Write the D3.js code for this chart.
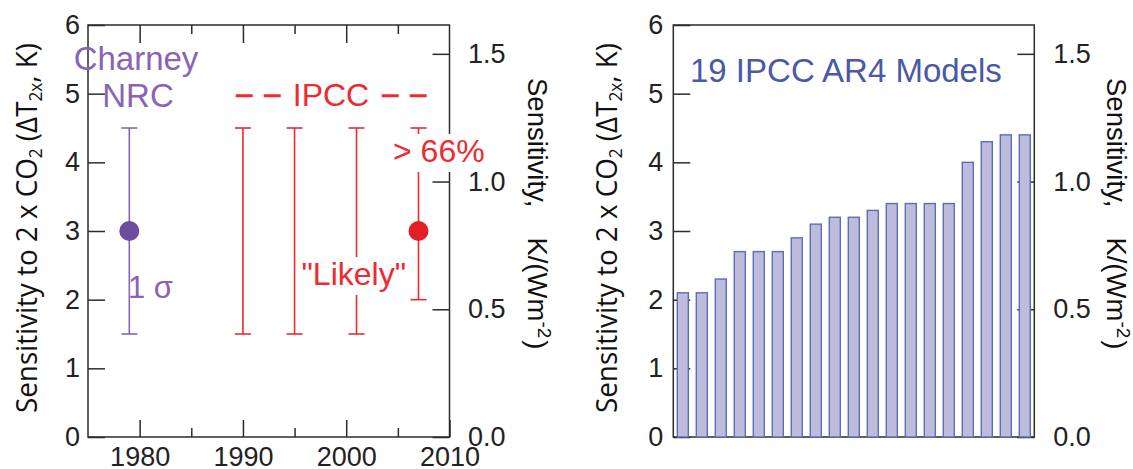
<!DOCTYPE html>
<html>
<head>
<meta charset="utf-8">
<script src="https://cdn.jsdelivr.net/npm/d3@7"></script>
<style>
  body { margin: 0; background: #fff; }
  svg text { font-family: "Liberation Sans", Arial, sans-serif; }
  .ax text { font-size: 27px; fill: #222; }
</style>
</head>
<body>
<script>
// ---- data ----
const yearTicks = [1980, 1990, 2000, 2010];
const yearMinor = [1985, 1995, 2005];
const sensTicks = [0, 1, 2, 3, 4, 5, 6];
const wmTicks = [0, 0.5, 1.0, 1.5];

// Charney / NRC 1979 estimate
const charneyYear = [1979];
const charneyLow = [1.5];
const charneyHigh = [4.5];
const charneyBest = [3];

// IPCC "likely" ranges
const ipccYears = [1990, 1995, 2001, 2007];
const ipccLow = [1.5, 1.5, 1.5, 2.0];
const ipccHigh = [4.5, 4.5, 4.5, 4.5];
const ipccBest = [null, null, null, 3];

// 19 IPCC AR4 models, sorted
const modelSens = [2.1, 2.1, 2.3, 2.7, 2.7, 2.7, 2.9, 3.1, 3.2, 3.2,
                   3.3, 3.4, 3.4, 3.4, 3.4, 4.0, 4.3, 4.4, 4.4];
const models = modelSens.map((d, i) => "M" + (i + 1));

const forcing2x = 3.72; // W/m2 for 2 x CO2, links the two y axes

// ---- style ----
const ink = "#2b2b2b";
const purple = "#8864b6";
const purpleDot = "#6e4b9e";
const red = "#ee2a2f";
const redDot = "#e21f26";
const blue = "#4a58a8";

const svg = d3.select("body").append("svg")
    .attr("width", 1133)
    .attr("height", 469);

function cleanAxis(g) {
    g.attr("font-family", null).attr("font-size", null).attr("class", "ax");
    g.select(".domain").remove();
    g.selectAll("line").attr("stroke", ink).attr("stroke-width", 1.5);
}

function leftTitle(cx) {
    const t = svg.append("text")
        .attr("transform", `translate(${cx},228) rotate(-90)`)
        .attr("text-anchor", "middle")
        .attr("textLength", 370)
        .attr("lengthAdjust", "spacingAndGlyphs")
        .style("font-family", "'Open Sans', sans-serif")
        .style("font-size", "29px")
        .attr("fill", "#111");
    t.append("tspan").text("Sensitivity to 2 x CO");
    t.append("tspan").attr("baseline-shift", "-25%").style("font-size", "18px").text("2");
    t.append("tspan").text(" (ΔT");
    t.append("tspan").attr("baseline-shift", "-25%").style("font-size", "18px").text("2x");
    t.append("tspan").text(", K)");
}

function rightTitle(cx) {
    const t = svg.append("text")
        .attr("transform", `translate(${cx},78) rotate(90)`)
        .attr("text-anchor", "start")
        .style("font-size", "27.5px")
        .attr("fill", "#111");
    t.append("tspan").text("Sensitivity,");
    t.append("tspan").attr("dx", 30).text("K/(Wm");
    t.append("tspan").attr("baseline-shift", "super").style("font-size", "19px").text("-2");
    t.append("tspan").attr("baseline-shift", "0").attr("dx", 2).text(")");
}

function labelWithBg(parent, text, x, y, size, color) {
    const bg = parent.append("rect").attr("fill", "#fff");
    const t = parent.append("text")
        .attr("x", x).attr("y", y)
        .style("font-size", size + "px")
        .attr("fill", color)
        .text(text);
    const b = t.node().getBBox();
    bg.attr("x", b.x - 2).attr("y", b.y + 1).attr("width", b.width + 4).attr("height", b.height + 2);
    return t;
}

// =================== left panel ===================
const x = d3.scaleLinear([1975, 2010], [88, 449.5]);
const y = d3.scaleLinear([0, 6], [437, 25]);
const yW = d3.scaleLinear([0, 6 / forcing2x], [437, 25]);

const left = svg.append("g");

left.append("rect")
    .attr("x", x(1975)).attr("y", y(6))
    .attr("width", x(2010) - x(1975)).attr("height", y(0) - y(6))
    .attr("fill", "none").attr("stroke", ink).attr("stroke-width", 1.5);

left.append("g").call(d3.axisLeft(y).tickValues(sensTicks).tickSize(-17).tickPadding(8)
        .tickFormat(d3.format("d")))
    .attr("transform", `translate(${x(1975)},0)`).call(cleanAxis);
left.append("g").call(d3.axisRight(yW).tickValues(wmTicks).tickSize(-17).tickPadding(18.5)
        .tickFormat(d3.format(".1f")))
    .attr("transform", `translate(${x(2010)},0)`).call(cleanAxis);
left.append("g").call(d3.axisBottom(x).tickValues(yearTicks).tickSize(-17).tickPadding(10)
        .tickFormat(d3.format("d")))
    .attr("transform", `translate(0,${y(0)})`).call(cleanAxis);
left.append("g").call(d3.axisBottom(x).tickValues(yearMinor).tickSize(-9).tickFormat(""))
    .attr("transform", `translate(0,${y(0)})`).call(cleanAxis);
left.append("g").call(d3.axisTop(x).tickValues(yearTicks.slice(0, 3)).tickSize(-18).tickFormat(""))
    .attr("transform", `translate(0,${y(6)})`).call(cleanAxis);
left.append("g").call(d3.axisTop(x).tickValues(yearMinor).tickSize(-9).tickFormat(""))
    .attr("transform", `translate(0,${y(6)})`).call(cleanAxis);

// error bars
function errorBars(years, lo, hi, color) {
    const g = left.append("g").attr("stroke", color).attr("stroke-width", 1.6);
    years.forEach((yr, i) => {
        g.append("line").attr("x1", x(yr)).attr("x2", x(yr)).attr("y1", y(lo[i])).attr("y2", y(hi[i]));
        g.append("line").attr("x1", x(yr) - 8).attr("x2", x(yr) + 8).attr("y1", y(lo[i])).attr("y2", y(lo[i]));
        g.append("line").attr("x1", x(yr) - 8).attr("x2", x(yr) + 8).attr("y1", y(hi[i])).attr("y2", y(hi[i]));
    });
}
errorBars(charneyYear, charneyLow, charneyHigh, purple);
errorBars(ipccYears, ipccLow, ipccHigh, red);

left.selectAll(".cdot").data(charneyYear).join("circle")
    .attr("cx", d => x(d)).attr("cy", (d, i) => y(charneyBest[i]))
    .attr("r", 10).attr("fill", purpleDot);

left.selectAll(".idot").data(ipccYears.filter((d, i) => ipccBest[i] != null)).join("circle")
    .attr("cx", d => x(d)).attr("cy", d => y(ipccBest[ipccYears.indexOf(d)]))
    .attr("r", 10).attr("fill", redDot);

// labels
left.append("text").attr("x", 136).attr("y", 70).attr("text-anchor", "middle")
    .style("font-size", "33px").attr("fill", purple).text("Charney");
left.append("text").attr("x", 138).attr("y", 107).attr("text-anchor", "middle")
    .style("font-size", "33px").attr("fill", purple).text("NRC");
left.append("text").attr("x", 128).attr("y", 298)
    .style("font-size", "31px").attr("fill", purple).text("1 σ");

left.append("text").attr("x", 331).attr("y", 106).attr("text-anchor", "middle")
    .style("font-size", "32px").attr("fill", red).text("IPCC");
left.append("line").attr("x1", 235.7).attr("x2", 282).attr("y1", 95.7).attr("y2", 95.7)
    .attr("stroke", red).attr("stroke-width", 3).attr("stroke-dasharray", "17,11");
left.append("line").attr("x1", 381.7).attr("x2", 427).attr("y1", 95.7).attr("y2", 95.7)
    .attr("stroke", red).attr("stroke-width", 3).attr("stroke-dasharray", "17,11");

labelWithBg(left, "> 66%", 393, 162, 32, red);
labelWithBg(left, "\"Likely\"", 301.5, 285, 32, red);

leftTitle(37);
rightTitle(528);

// =================== right panel ===================
const xb = d3.scaleBand(models, [673.3, 1034.3]).paddingInner(0.42).paddingOuter(0.21);
const y2 = d3.scaleLinear([0, 6], [437, 25]);
const y2W = d3.scaleLinear([0, 6 / forcing2x], [437, 25]);

const right = svg.append("g");

right.append("rect")
    .attr("x", 673.3).attr("y", y2(6))
    .attr("width", 1034.3 - 673.3).attr("height", y2(0) - y2(6))
    .attr("fill", "none").attr("stroke", ink).attr("stroke-width", 1.5);

right.append("g").call(d3.axisLeft(y2).tickValues(sensTicks).tickSize(-17).tickPadding(10)
        .tickFormat(d3.format("d")))
    .attr("transform", "translate(673.3,0)").call(cleanAxis);
right.append("g").call(d3.axisRight(y2W).tickValues(wmTicks).tickSize(-17).tickPadding(19)
        .tickFormat(d3.format(".1f")))
    .attr("transform", "translate(1034.3,0)").call(cleanAxis);

right.selectAll(".bar").data(modelSens).join("rect")
    .attr("class", "bar")
    .attr("x", (d, i) => xb(models[i]))
    .attr("width", xb.bandwidth())
    .attr("y", d => y2(d))
    .attr("height", d => y2(0) - y2(d))
    .attr("fill", "#bebcdd")
    .attr("stroke", "#5b6db6")
    .attr("stroke-width", 1.4);

right.append("text").attr("x", 690).attr("y", 82)
    .style("font-size", "33px").attr("fill", blue).text("19 IPCC AR4 Models");

leftTitle(617);
rightTitle(1107);
</script>
</body>
</html>
